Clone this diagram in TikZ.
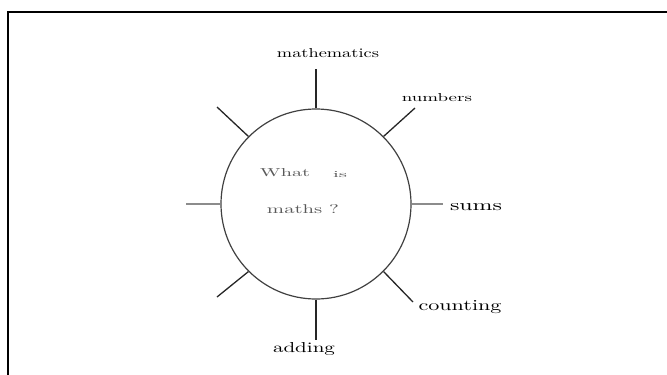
\documentclass[tikz,border=0pt]{standalone}
\usepackage{graphicx}
\begin{document}
\begin{tikzpicture}[x=1pt,y=-1pt,
  frame/.style={line width=2.5pt,black},
  ring/.style={draw=black!75,line width=1.2pt},
  spoke/.style={line width=1.3pt,black!85},
  greyspoke/.style={line width=2pt,black!45},
  lbl/.style={inner sep=0pt,text=black},
  inlbl/.style={inner sep=0pt,text=black!65}]
\useasboundingbox (0,0) rectangle (667,375);
% partial frame
\draw[frame] (8,376) -- (8,12) -- (668,12);
% centre circle
\node[ring,circle,minimum size=190pt,inner sep=0pt] (c) at (316,204) {};
% labels inside
\node[inlbl] (what) at (285,173) {\resizebox{50pt}{8pt}{What}};
\node[inlbl] (is) at (340,175) {\resizebox{14pt}{6pt}{is}};
\node[inlbl] (maths) at (303,209) {\resizebox{72pt}{9pt}{maths ?}};
% outer labels
\node[lbl] (mathematics) at (328,53) {\resizebox{102pt}{9pt}{mathematics}};
\node[lbl] (numbers) at (437,98) {\resizebox{70pt}{8pt}{numbers}};
\node[lbl] (sums) at (476,207) {\resizebox{52pt}{7pt}{sums}};
\node[lbl] (counting) at (460,307) {\resizebox{83pt}{10pt}{counting}};
\node[lbl] (adding) at (304,349) {\resizebox{62pt}{10pt}{adding}};
% spoke ends
\coordinate (ul) at (217,107);
\coordinate (l) at (186,204);
\coordinate (ll) at (217,297);
\coordinate (t) at (316,69);
\coordinate (ur) at (415,108);
\coordinate (r) at (443,204);
\coordinate (lr) at (413,302);
\coordinate (b) at (316,340);
% spokes
\draw[spoke] (c.90) -- (t);
\draw[spoke] (c.45) -- (ur);
\draw[greyspoke] (c.0) -- (r);
\draw[spoke] (c.-45) -- (lr);
\draw[spoke] (c.-90) -- (b);
\draw[spoke] (c.-135) -- (ll);
\draw[greyspoke] (c.180) -- (l);
\draw[spoke] (c.135) -- (ul);
\end{tikzpicture}
\end{document}
